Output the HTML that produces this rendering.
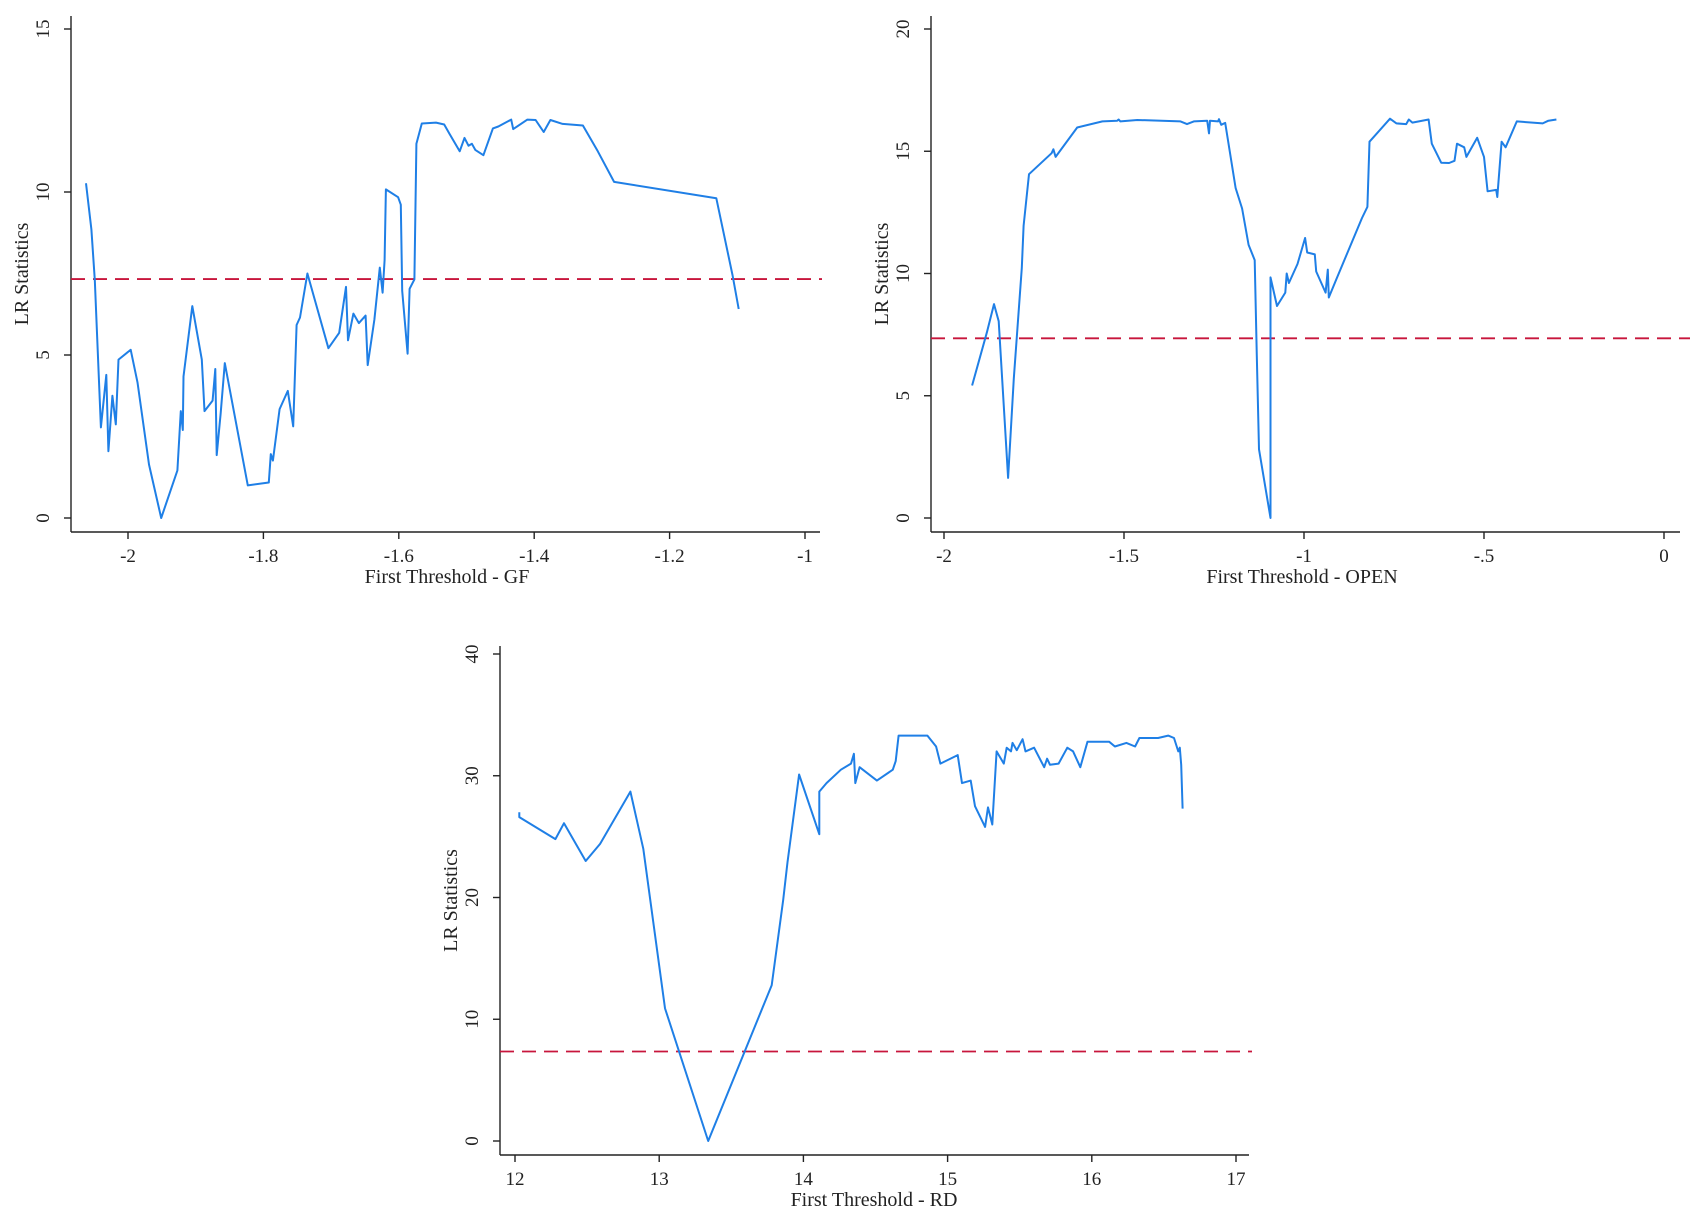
<!DOCTYPE html>
<html><head><meta charset="utf-8"><style>
html,body{margin:0;padding:0;background:#fff}
svg{display:block}
text{font-family:"Liberation Serif",serif;fill:#222}
</style></head><body>
<svg id="chart" width="1693" height="1226" viewBox="0 0 1693 1226" xmlns="http://www.w3.org/2000/svg"></svg>
<script>
// ---- Panel GF ----
const gfX = [-2.062,-2.054,-2.049,-2.040,-2.032,-2.029,-2.023,-2.018,-2.014,-1.996,-1.986,-1.969,-1.951,-1.927,-1.922,-1.919,-1.918,-1.905,-1.891,-1.887,-1.875,-1.871,-1.869,-1.863,-1.857,-1.823,-1.792,-1.789,-1.786,-1.776,-1.764,-1.756,-1.751,-1.746,-1.735,-1.704,-1.688,-1.678,-1.675,-1.667,-1.659,-1.649,-1.646,-1.636,-1.628,-1.624,-1.621,-1.619,-1.601,-1.597,-1.595,-1.587,-1.584,-1.577,-1.574,-1.566,-1.545,-1.533,-1.525,-1.510,-1.503,-1.497,-1.492,-1.487,-1.475,-1.461,-1.453,-1.434,-1.431,-1.410,-1.398,-1.386,-1.376,-1.358,-1.328,-1.306,-1.282,-1.131,-1.107,-1.098];
const gfY = [10.27,8.85,7.3,2.78,4.39,2.05,3.75,2.87,4.86,5.16,4.16,1.64,0,1.46,3.28,2.70,4.34,6.50,4.86,3.28,3.6,4.57,1.93,3.22,4.75,1.0,1.09,1.96,1.76,3.34,3.9,2.81,5.92,6.15,7.5,5.21,5.68,7.09,5.45,6.27,5.98,6.21,4.69,6.09,7.68,6.91,7.91,10.08,9.84,9.61,6.97,5.04,7.03,7.32,11.48,12.1,12.13,12.07,11.78,11.25,11.66,11.42,11.48,11.29,11.13,11.95,12.01,12.22,11.93,12.22,12.21,11.84,12.21,12.09,12.04,11.25,10.31,9.81,7.44,6.41];
const gfXTicks = [-2,-1.8,-1.6,-1.4,-1.2,-1];
const gfXLabels = ["-2","-1.8","-1.6","-1.4","-1.2","-1"];
const gfYTicks = [0,5,10,15];
const gfCrit = 7.33;
// ---- Panel OPEN ----
const opX = [-1.922,-1.881,-1.861,-1.848,-1.822,-1.806,-1.784,-1.779,-1.764,-1.701,-1.696,-1.690,-1.630,-1.560,-1.519,-1.515,-1.510,-1.463,-1.343,-1.325,-1.306,-1.269,-1.264,-1.261,-1.239,-1.236,-1.230,-1.219,-1.190,-1.172,-1.154,-1.137,-1.131,-1.125,-1.093,-1.093,-1.075,-1.052,-1.048,-1.042,-1.018,-0.997,-0.991,-0.970,-0.966,-0.940,-0.934,-0.931,-0.910,-0.839,-0.825,-0.824,-0.818,-0.761,-0.743,-0.716,-0.709,-0.699,-0.654,-0.645,-0.619,-0.597,-0.582,-0.575,-0.555,-0.549,-0.519,-0.500,-0.490,-0.466,-0.463,-0.451,-0.440,-0.409,-0.337,-0.321,-0.299];
const opY = [5.42,7.58,8.75,8.05,1.64,5.70,10.23,11.95,14.06,14.92,15.08,14.77,15.97,16.22,16.25,16.30,16.22,16.28,16.22,16.11,16.22,16.25,15.73,16.25,16.22,16.31,16.08,16.16,13.5,12.66,11.17,10.55,6.64,2.81,0.0,9.84,8.67,9.22,10.0,9.61,10.39,11.45,10.86,10.78,10.08,9.22,10.16,9.02,9.77,12.27,12.69,12.73,15.39,16.33,16.14,16.11,16.30,16.17,16.30,15.31,14.53,14.52,14.61,15.31,15.16,14.77,15.55,14.77,13.36,13.42,13.13,15.39,15.16,16.22,16.14,16.25,16.30];
const opXTicks = [-2,-1.5,-1,-0.5,0];
const opXLabels = ["-2","-1.5","-1","-.5","0"];
const opYTicks = [0,5,10,15,20];
const opCrit = 7.35;
// ---- Panel RD ----
const rdX = [12.03,12.03,12.28,12.34,12.49,12.59,12.80,12.89,13.04,13.34,13.78,13.86,13.89,13.97,14.11,14.11,14.16,14.26,14.33,14.35,14.36,14.39,14.51,14.62,14.64,14.66,14.86,14.92,14.95,15.07,15.10,15.16,15.19,15.26,15.28,15.31,15.34,15.39,15.41,15.44,15.45,15.48,15.52,15.54,15.60,15.67,15.69,15.71,15.77,15.83,15.87,15.92,15.97,16.12,16.16,16.24,16.30,16.33,16.46,16.53,16.57,16.60,16.61,16.62,16.63];
const rdY = [27.0,26.6,24.8,26.1,23.0,24.4,28.7,24.0,10.9,0,12.8,19.8,22.9,30.1,25.2,28.7,29.4,30.5,31.0,31.8,29.4,30.7,29.6,30.5,31.2,33.3,33.3,32.4,31.0,31.7,29.4,29.6,27.5,25.8,27.4,26.0,32.0,31.0,32.3,32.0,32.7,32.1,33.0,32.0,32.3,30.7,31.4,30.9,31.0,32.3,32.0,30.7,32.8,32.8,32.4,32.7,32.4,33.1,33.1,33.3,33.1,32.0,32.3,30.9,27.3];
const rdXTicks = [12,13,14,15,16,17];
const rdXLabels = ["12","13","14","15","16","17"];
const rdYTicks = [0,10,20,30,40];
const rdCrit = 7.35;

const svg = document.getElementById('chart');
const NS = 'http://www.w3.org/2000/svg';
function mk(tag, attrs, parent){ const e=document.createElementNS(NS,tag); for(const k in attrs) e.setAttribute(k,attrs[k]); parent.appendChild(e); return e; }

function panel(cfg){
  const g = mk('g',{},svg);
  
  
  const sx = v => cfg.px0 + (v - cfg.x0)/(cfg.x1 - cfg.x0)*(cfg.px1 - cfg.px0);
  const sy = v => cfg.py0 + (v - cfg.y0)/(cfg.y1 - cfg.y0)*(cfg.py1 - cfg.py0);
  const ya = mk('line',{x1:cfg.ax,y1:cfg.top,x2:cfg.ax,y2:cfg.ay,stroke:'#222','stroke-width':1.4},g);
  
  
  const xa = mk('line',{x1:cfg.ax,y1:cfg.ay,x2:cfg.right,y2:cfg.ay,stroke:'#222','stroke-width':1.4},g);
  
  
  cfg.yt.forEach(v=>{
    const y=sy(v);
    mk('line',{x1:cfg.ax-7,y1:y,x2:cfg.ax,y2:y,stroke:'#222','stroke-width':1.4},g);
    const t=mk('text',{x:0,y:0,'font-size':19,'text-anchor':'middle',transform:`translate(${cfg.ax-22},${y}) rotate(-90)`},g);
    
    
    t.textContent=String(v);
  });
  cfg.xt.forEach((v,i)=>{
    const x=sx(v);
    mk('line',{x1:x,y1:cfg.ay,x2:x,y2:cfg.ay+7,stroke:'#222','stroke-width':1.4},g);
    const t=mk('text',{x:x,y:cfg.ay+30,'font-size':19,'text-anchor':'middle'},g);
    
    
    t.textContent=cfg.xl[i];
  });
  const xt=mk('text',{x:cfg.titleX,y:cfg.ay+51,'font-size':20,'text-anchor':'middle'},g);
  
  
  xt.textContent=cfg.title;
  const yt=mk('text',{x:0,y:0,'font-size':20,'text-anchor':'middle',transform:`translate(${cfg.ax-43},${(cfg.top+cfg.ay)/2}) rotate(-90)`},g);
  
  
  yt.textContent='LR Statistics';
  const cl=mk('line',{x1:cfg.ax,y1:sy(cfg.crit),x2:cfg.critEnd,y2:sy(cfg.crit),stroke:'#c8163c','stroke-width':1.8,'stroke-dasharray':'14,8'},g);
  
  
  const d=cfg.xs.map((v,i)=>(i?'L':'M')+sx(v).toFixed(1)+','+sy(cfg.ys[i]).toFixed(1)).join(' ');
  const p=mk('path',{d:d,fill:'none',stroke:'#1f7fe6','stroke-width':2,'stroke-linejoin':'round'},g);
  
  
}

panel({name:'gf-panel',xs:gfX,ys:gfY,xt:gfXTicks,xl:gfXLabels,yt:gfYTicks,crit:gfCrit,
  x0:-2,x1:-1,px0:128,px1:805,y0:0,y1:15,py0:518,py1:29,ax:71,ay:532,top:16,right:820,critEnd:822,
  title:'First Threshold - GF',titleX:447});
panel({name:'open-panel',xs:opX,ys:opY,xt:opXTicks,xl:opXLabels,yt:opYTicks,crit:opCrit,
  x0:-2,x1:0,px0:944,px1:1664,y0:0,y1:20,py0:518,py1:29,ax:931,ay:532,top:16,right:1680,critEnd:1690,
  title:'First Threshold - OPEN',titleX:1302});
panel({name:'rd-panel',xs:rdX,ys:rdY,xt:rdXTicks,xl:rdXLabels,yt:rdYTicks,crit:rdCrit,
  x0:12,x1:17,px0:515,px1:1236,y0:0,y1:40,py0:1141,py1:654,ax:500,ay:1155,top:646,right:1249,critEnd:1252,
  title:'First Threshold - RD',titleX:874});
</script>
</body></html>
